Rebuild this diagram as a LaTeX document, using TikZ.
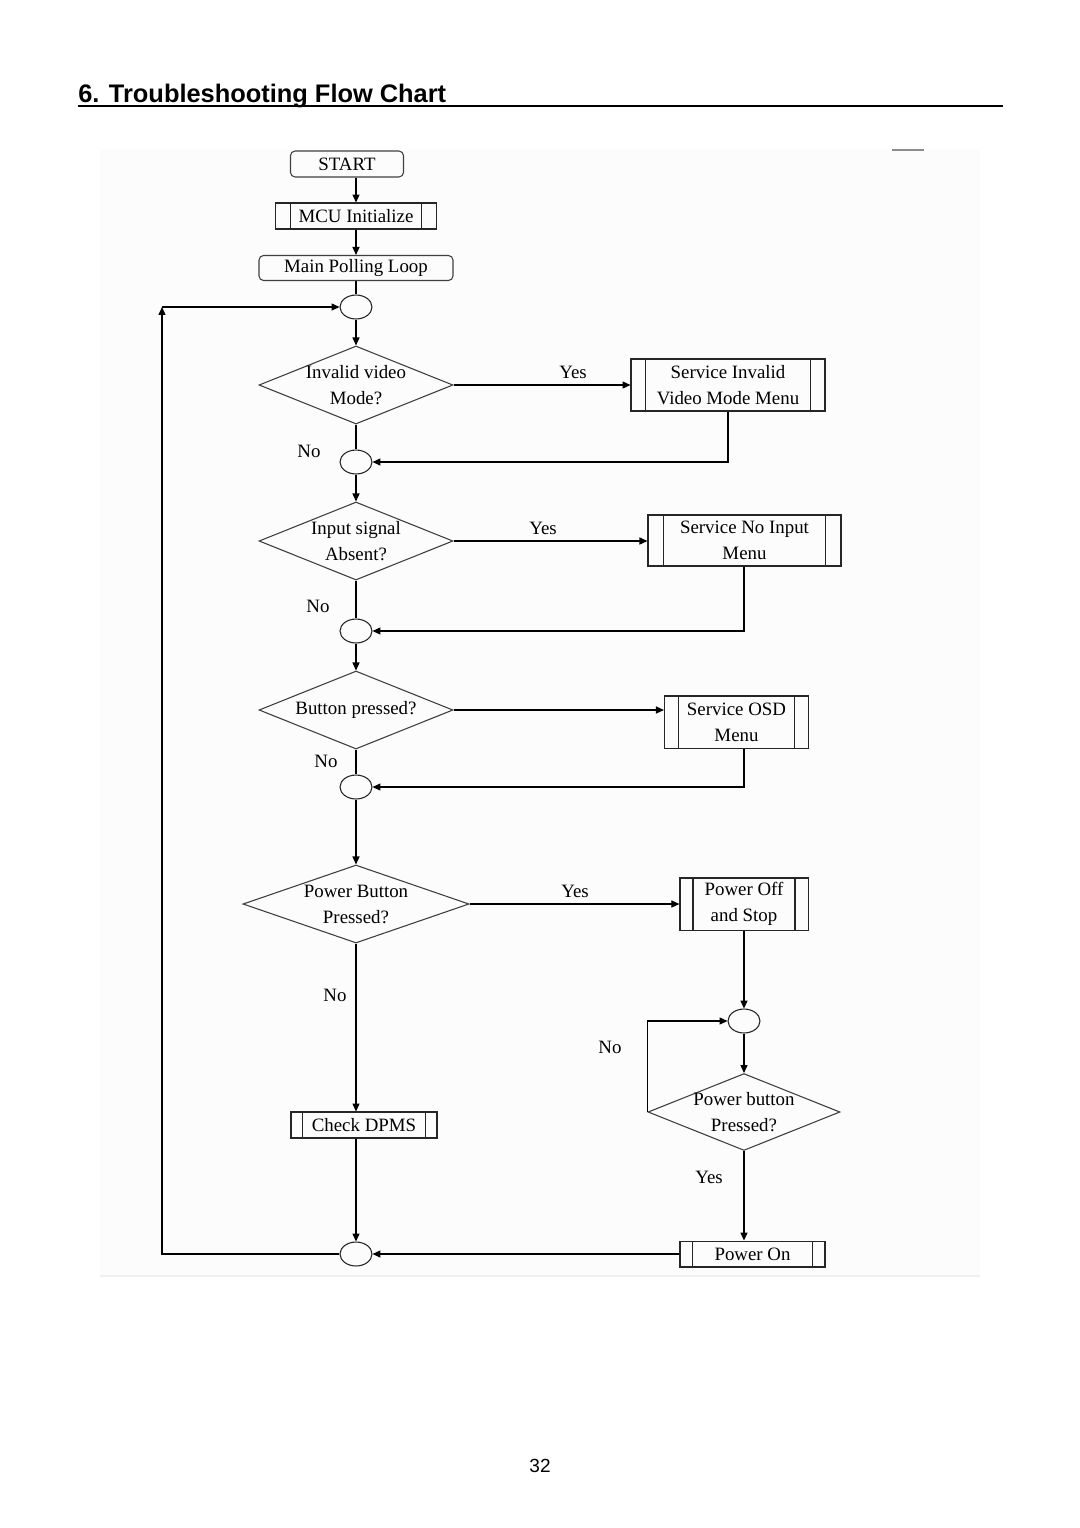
\documentclass[tikz,border=0pt]{standalone}
\usepackage{fontspec}
\setmainfont{Liberation Serif}
\newfontfamily\headfont{Liberation Sans}
\usetikzlibrary{shapes.geometric,arrows.meta}

\tikzset{
  flowtxt/.style={font=\fontsize{10.4}{14.3}\selectfont},
  termbox/.style={flowtxt, draw=black!75, rounded corners=2.5pt, line width=0.6pt, inner sep=0pt},
  procbox/.style={flowtxt, draw=black!85, line width=0.6pt, inner sep=0pt, align=center,
    path picture={\draw[black!85, line width=0.6pt]
      ([xshift=#1]path picture bounding box.north west) -- ([xshift=#1]path picture bounding box.south west)
      ([xshift=-#1]path picture bounding box.north east) -- ([xshift=-#1]path picture bounding box.south east);}},
  procbox/.default=7.5pt,
  decision/.style={flowtxt, diamond, aspect=2.5, draw=black!75, line width=0.6pt, inner sep=-2pt, align=center},
  joint/.style={ellipse, draw=black!85, line width=0.6pt, inner sep=0pt,
    minimum width=17.6pt, minimum height=13.2pt},
  flow/.style={-{Triangle[length=4.4pt,width=3.9pt]}, line width=0.6pt},
  link/.style={line width=0.6pt},
  answer/.style={font=\fontsize{10.4}{12}\selectfont}
}

\begin{document}
\begin{tikzpicture}[x=0.5512pt, y=-0.5512pt]
    \useasboundingbox (0,0) rectangle (1080,1528);

    % Titulo
    \node[anchor=base west, font=\headfont\bfseries\fontsize{14}{16}\selectfont, inner sep=0pt]
        (title) at (78,102) {6. Troubleshooting Flow Chart};
    \draw[line width=1.1pt] (78,106) -- (1003,106);

    % Fondo del diagrama
    \fill[black!1] (100,150) rectangle (980,1276);
    \draw[yellow!10!black!8, line width=0.6pt] (100,1276) -- (980,1276);
    \draw[black!45, line width=0.8pt] (892,150) -- (924,150);

    % Bloques
    \node[termbox, minimum width=62.3pt, minimum height=14.3pt] (start) at (347,164) {START};
    \node[procbox=8.3pt, minimum width=88.7pt, minimum height=14.3pt] (mcu) at (356,216) {MCU Initialize};
    \node[termbox, minimum width=106.9pt, minimum height=13.8pt] (main) at (356,268) {Main Polling Loop};

    \node[joint] (c1) at (356,307) {};
    \node[decision, minimum width=106.9pt, minimum height=43pt] (d1) at (356,385) {Invalid video\\Mode?};
    \node[procbox=8pt, minimum width=106.9pt, minimum height=28.7pt] (s1) at (728,385) {Service Invalid\\Video Mode Menu};

    \node[joint] (c2) at (356,462) {};
    \node[decision, minimum width=106.9pt, minimum height=43pt] (d2) at (356,541) {Input signal\\Absent?};
    \node[procbox=8.8pt, minimum width=106.4pt, minimum height=28.1pt] (s2) at (744.5,540.5) {Service No Input\\Menu};

    \node[joint] (c3) at (356,631) {};
    \node[decision, minimum width=106.9pt, minimum height=43pt] (d3) at (356,710) {Button pressed?};
    \node[procbox=7.7pt, minimum width=79.4pt, minimum height=28.7pt] (s3) at (736.5,722) {Service OSD\\Menu};

    \node[joint] (c4) at (356,787) {};
    \node[decision, minimum width=124.6pt, minimum height=43pt] (d4) at (356,904) {Power Button\\Pressed?};
    \node[procbox=7.2pt, minimum width=70.6pt, minimum height=28.7pt] (s4) at (744,904) {Power Off\\and Stop};

    \node[joint] (c5) at (744,1021) {};
    \node[decision, minimum width=105.8pt, minimum height=42.4pt] (d5) at (744,1112) {Power button\\Pressed?};

    \node[procbox=6.5pt, minimum width=80.5pt, minimum height=14.3pt] (dpms) at (364,1125) {Check DPMS};
    \node[procbox=7pt, minimum width=79.9pt, minimum height=14.3pt] (pon) at (752.5,1254) {Power On};
    \node[joint] (c6) at (356,1254) {};

    \coordinate (back) at (162,307);

    % Conexiones
    \draw[flow] (start.south -| mcu) -- (mcu);
    \draw[flow] (mcu) -- (main);
    \draw[link] (main) -- (c1);
    \draw[flow] (c1) -- (d1);
    \draw[flow] (d1.east) -- (s1.west);
    \draw[flow] (s1.south) |- (c2);
    \draw[link] (d1.south) -- (c2);
    \draw[flow] (c2) -- (d2);
    \draw[flow] (d2.east) -- (d2.east -| s2.west);
    \draw[flow] (s2.south -| 744,0) |- (c3);
    \draw[link] (d2.south) -- (c3);
    \draw[flow] (c3) -- (d3);
    \draw[flow] (d3.east) -- (d3.east -| s3.west);
    \draw[flow] (s3.south -| 744,0) |- (c4);
    \draw[link] (d3.south) -- (c4);
    \draw[flow] (c4) -- (d4);
    \draw[flow] (d4.east) -- (s4.west);
    \draw[flow] (s4.south) -- (c5);
    \draw[flow] (c5) -- (d5);
    \draw[flow] (d5.west) |- (c5);
    \draw[flow] (d5.south) -- (d5.south |- pon.north);
    \draw[flow] (pon.west) -- (c6);
    \draw[flow] (d4.south) -- (d4.south |- dpms.north);
    \draw[flow] (dpms.south -| c6) -- (c6);
    \draw[flow] (c6) -| (back);
    \draw[flow] (back) -- (c1);

    % Etiquetas Yes / No
    \node[answer] (yes1) at (573,372) {Yes};
    \node[answer] (no1)  at (309,451) {No};
    \node[answer] (yes2) at (543,528) {Yes};
    \node[answer] (no2)  at (318,606) {No};
    \node[answer] (no3)  at (326,761) {No};
    \node[answer] (yes4) at (575,891) {Yes};
    \node[answer] (no4)  at (335,995) {No};
    \node[answer] (no5)  at (610,1047) {No};
    \node[answer] (yes5) at (709,1177) {Yes};

    % Numero de pagina
    \node[font=\headfont\fontsize{10.5}{12}\selectfont] (page) at (540,1466) {32};
\end{tikzpicture}
\end{document}
